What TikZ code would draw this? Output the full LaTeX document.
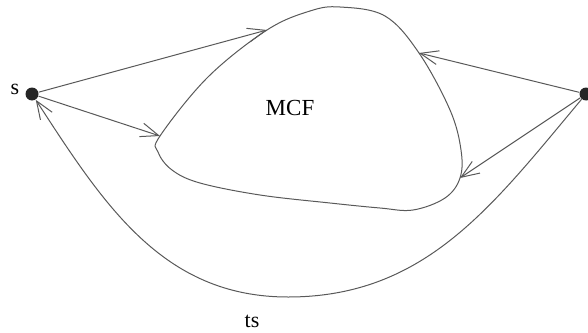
\documentclass[tikz,border=0pt]{standalone}
\usepackage{fontspec}
\setmainfont{Liberation Serif}
\usetikzlibrary{arrows.meta}

\begin{document}
\begin{tikzpicture}[x=0.5pt, y=-0.5pt,
        dot/.style={circle, fill=black!85, inner sep=0pt, minimum size=6.5pt},
        label text/.style={font=\fontsize{11}{13}\selectfont, inner sep=0pt},
        arrow/.style={-{Straight Barb[length=9pt, width=7pt]}, gray!70!black, line width=0.5pt},
        blob/.style={gray!70!black, line width=0.5pt}
    ]
        \useasboundingbox (0,0) rectangle (588,332);

        \node[dot] (s) at (32,94) {};
        \node[dot] (t) at (586,94) {};
        \node[label text] (s label) at (15,89) {s};

        % points on the MCF region where the arrows end
        \coordinate (in1) at (267,30);
        \coordinate (in2) at (160,136);
        \coordinate (in3) at (419,53);
        \coordinate (in4) at (460,178);

        \draw[blob] plot[smooth cycle, tension=0.6] coordinates {
            (in2) (158,152) (172,170) (200,183) (260,195) (330,203) (380,208) (413,210)
            (445,198) (in4) (461,150) (450,110) (in3) (385,16) (340,7) (310,11) (in1)
            (208,77)};
        \node[label text, font=\fontsize{11.5}{14}\selectfont] (mcf) at (290,108) {MCF};

        \draw[arrow] (s) -- (in1);
        \draw[arrow] (s) -- (in2);
        \draw[arrow] (t) -- (in3);
        \draw[arrow] (t) -- (in4);

        \coordinate (bottom) at (288,297);
        \draw[arrow] (t) to[out=230, in=0] (bottom) to[out=180, in=-57] (s);
        \node[label text] (ts) at (252,321) {ts};
    \end{tikzpicture}
\end{document}
